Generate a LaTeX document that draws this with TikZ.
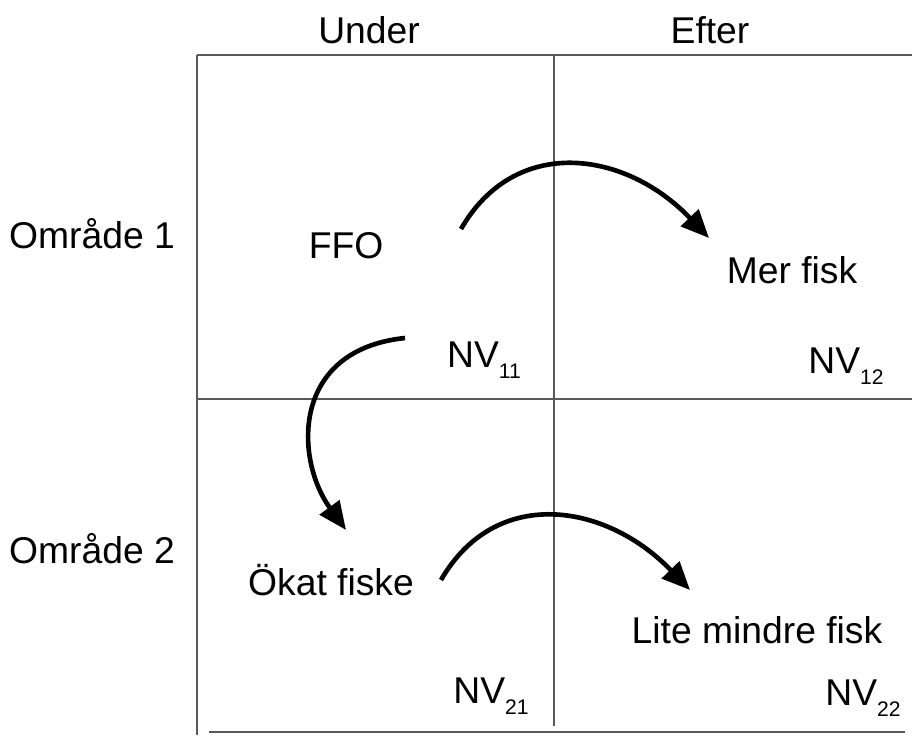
\documentclass[tikz,border=0pt]{standalone}
\usepackage{fontspec}
\setmainfont{Liberation Sans}
\usetikzlibrary{arrows.meta}
\newcommand{\nvsub}[1]{NV\raisebox{-0.32em}{\fontsize{15}{15}\selectfont #1}}
\tikzset{
  gridline/.style={line width=1.3pt, black!65},
  flow/.style={line width=3.3pt, -{Triangle[length=20pt,width=17pt]}},
  lbl/.style={anchor=base, inner sep=0pt, font=\fontsize{26.5}{30}\selectfont}
}
\begin{document}
\begin{tikzpicture}[x=0.025cm, y=-0.025cm]
\useasboundingbox (0,0) rectangle (912,735);

% the table
\draw[gridline] (197,55)--(912,55);
\draw[gridline] (197,55)--(197,735);
\draw[gridline] (197,399)--(912,399);
\draw[gridline] (554,55)--(554,726);
\draw[gridline] (209,732)--(905,732);

% headings
\node[lbl] (under) at (369,44) {Under};
\node[lbl] (efter) at (710,44) {Efter};
\node[lbl] (omr1) at (92,248) {Område 1};
\node[lbl] (omr2) at (92,563) {Område 2};

% cells
\node[lbl] (ffo) at (346,258) {FFO};
\node[lbl] (merfisk) at (792,283) {Mer fisk};
\node[lbl] (okat) at (331,595) {Ökat fiske};
\node[lbl] (mindre) at (757,643) {Lite mindre fisk};
\node[lbl] (nv11) at (484,367) {\nvsub{11}};
\node[lbl] (nv12) at (846,373) {\nvsub{12}};
\node[lbl] (nv21) at (491,703) {\nvsub{21}};
\node[lbl] (nv22) at (863,705) {\nvsub{22}};

% arrows
\coordinate (a1) at (461,229);
\coordinate (b1) at (709,238);
\coordinate (a2) at (405,338);
\coordinate (b2) at (346,530);
\coordinate (a3) at (441,580);
\coordinate (b3) at (690,590);
\draw[flow] (a1) .. controls (515,135) and (625,150) .. (b1);
\draw[flow] (a2) .. controls (290,350) and (295,460) .. (b2);
\draw[flow] (a3) .. controls (495,486) and (605,502) .. (b3);
\end{tikzpicture}
\end{document}
